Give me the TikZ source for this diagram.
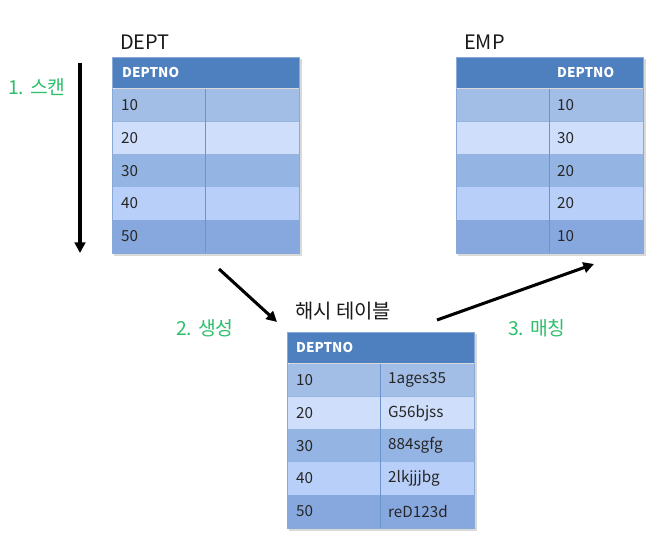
\documentclass[tikz,border=0pt]{standalone}
\usepackage{fontspec}
\setmainfont{Noto Sans CJK KR}
\usepackage{xcolor}
\usetikzlibrary{arrows.meta, positioning}

\definecolor{headblue}{HTML}{4E7FBE}
\definecolor{row1}{HTML}{A2BDE6}
\definecolor{row2}{HTML}{CEDEFB}
\definecolor{row3}{HTML}{94B4E3}
\definecolor{row4}{HTML}{B8CFF9}
\definecolor{row5}{HTML}{87A8DF}
\definecolor{gridblue}{HTML}{6B93CD}
\definecolor{labelgreen}{HTML}{2DBF6A}

\tikzset{
  headtext/.style={anchor=west, inner sep=0pt, text=white, font=\fontsize{11.5}{13}\selectfont\bfseries},
  celltext/.style={anchor=west, inner sep=0pt, text=black!85, font=\fontsize{13}{15}\selectfont},
  title/.style={anchor=west, inner sep=0pt, text=black!90, font=\fontsize{17}{19}\selectfont},
  phase/.style={anchor=west, inner sep=0pt, text=labelgreen, font=\fontsize{16.5}{18}\selectfont},
  flow/.style={line width=2.6pt, -{Triangle[length=9pt,width=9pt]}},
}

% #1 name, #2 origin, #3 header x, #4 rows (nr/left/right)
\newcommand{\dbtable}[4]{%
  \begin{scope}[shift={#2}]
    \fill[black!15] (2,2) rectangle (190,199);
    \fill[headblue] (0,0) rectangle (187,31);
    \node[headtext] (#1-head) at (#3,15.5) {DEPTNO};
    \foreach \r/\a/\b in {#4} {
      \fill[row\r] (0,{32+32.8*(\r-1)}) rectangle (187,{32+32.8*\r});
      \draw[gridblue!70, line width=0.6pt] (0,{32+32.8*\r}) -- (187,{32+32.8*\r});
      \node[celltext] (#1-a\r) at (9,{48+32.8*(\r-1)}) {\a};
      \node[celltext] (#1-b\r) at (101,{48+32.8*(\r-1)}) {\b};
    }
    \draw[gridblue, line width=0.7pt] (93,32) -- (93,196);
    \draw[gridblue!80, line width=0.5pt] (0,0) rectangle (187,196);
  \end{scope}}

\begin{document}
\begin{tikzpicture}[x=0.03cm, y=-0.03cm]
  \useasboundingbox (0,0) rectangle (662,540);

  % tables
  \dbtable{dept}{(112,57)}{10}{1/10/,2/20/,3/30/,4/40/,5/50/}
  \dbtable{emp}{(456,57)}{101}{1//10,2//30,3//20,4//20,5//10}
  \dbtable{hash}{(287,332)}{9}{1/10/1ages35,2/20/G56bjss,3/30/884sgfg,4/40/2lkjjjbg,5/50/reD123d}

  % titles
  \node[title] (depttitle) at (120,42) {DEPT};
  \node[title] (emptitle) at (464,42) {EMP};
  \node[title] (hashtitle) at (295,311) {해시 테이블};

  % steps
  \node[phase] (scan) at (8,87) {1. 스캔};
  \node[phase] (build) at (176,328) {2. 생성};
  \node[phase] (match) at (508,328) {3. 매칭};

  \coordinate (scanfrom) at (80,63);
  \coordinate (scanto) at (80,253);
  \coordinate (buildfrom) at (219,269);
  \coordinate (buildto) at (277,322);
  \coordinate (matchfrom) at (437,320);
  \coordinate (matchto) at (594,264);

  \draw[flow] (scanfrom) -- (scanto);
  \draw[flow] (buildfrom) -- (buildto);
  \draw[flow] (matchfrom) -- (matchto);
\end{tikzpicture}
\end{document}
